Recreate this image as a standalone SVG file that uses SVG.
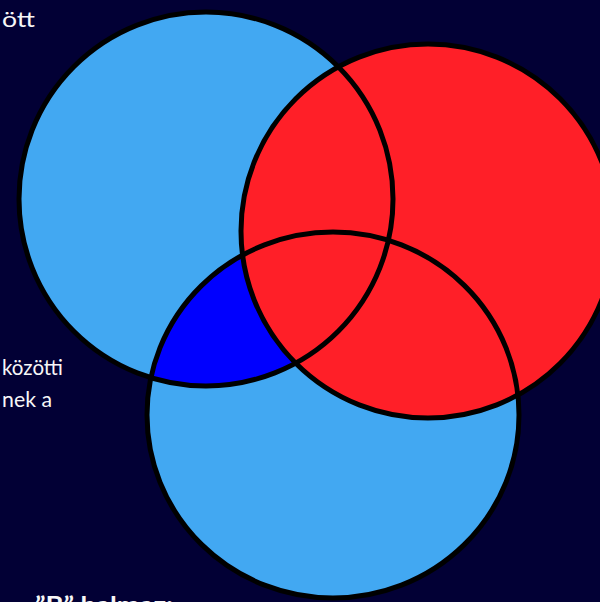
<svg xmlns="http://www.w3.org/2000/svg" width="600" height="602" viewBox="0 0 600 602">
<style>
.txt{font-family:"Lato","Liberation Sans",Arial,sans-serif;fill:#f7f7f7;font-size:22px}
.b{font-weight:bold}
.ol{fill:none;stroke:#000;stroke-width:5}
.lb{fill:#42A8F2}
</style>
<defs>
<clipPath id="clipA"><circle cx="206" cy="199" r="187"/></clipPath>
</defs>
<rect width="600" height="602" fill="#020035"/>
<g id="setA"><circle class="lb" cx="206" cy="199" r="187"/></g>
<g id="setC"><ellipse class="lb" cx="333" cy="415" rx="186" ry="183"/></g>
<g id="intersectionAC"><ellipse cx="333" cy="415" rx="186" ry="183" fill="#0000FF" clip-path="url(#clipA)"/></g>
<g id="setB"><circle cx="428" cy="231" r="187" fill="#FF1F28"/></g>
<g id="outlines">
<circle class="ol" cx="206" cy="199" r="187"/>
<ellipse class="ol" cx="333" cy="415" rx="186" ry="183"/>
<circle class="ol" cx="428" cy="231" r="187"/>
</g>
<g id="labels">
<text class="txt" x="2" y="27" textLength="33" lengthAdjust="spacingAndGlyphs">ött</text>
<text class="txt" x="2" y="375" textLength="61" lengthAdjust="spacingAndGlyphs">közötti</text>
<text class="txt" x="2" y="407" textLength="50" lengthAdjust="spacingAndGlyphs">nek a</text>
<text class="txt b" x="35" y="613" font-size="25" textLength="138" lengthAdjust="spacingAndGlyphs">”B” halmaz:</text>
</g>
</svg>
